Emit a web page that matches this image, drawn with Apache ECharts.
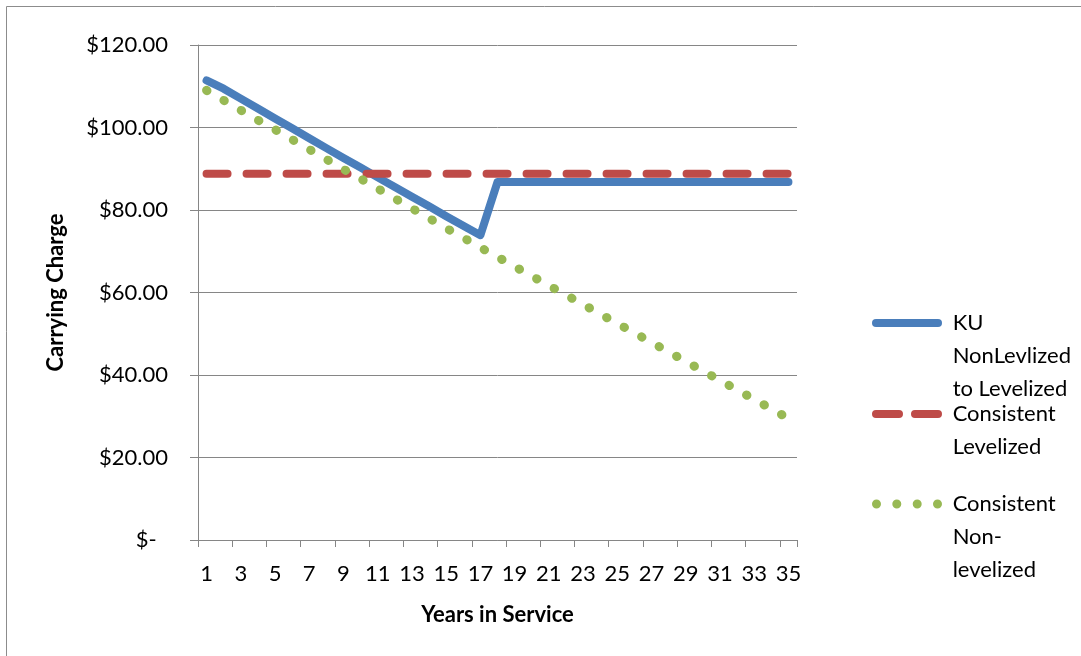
<!DOCTYPE html>
<html>
<head>
<meta charset="utf-8">
<title>Carrying Charge</title>
<script src="https://cdn.jsdelivr.net/npm/echarts/dist/echarts.min.js"></script>
<style>
  html, body { margin: 0; padding: 0; background: #fff; }
  #chart { width: 1081px; height: 656px; }
</style>
</head>
<body>
<div id="chart"></div>
<script>
// years 1..35
var years = []
for (var y = 1; y <= 35; y++) years.push(String(y))

var yTicks = [0, 20, 40, 60, 80, 100, 120]

var seriesNames = [
  'KU NonLevlized to Levelized',
  'Consistent Levelized',
  'Consistent Non-levelized'
]

var kuValues = [
  111.4, 109.4, 107.0, 104.6, 102.2, 99.8, 97.4, 95.0, 92.6, 90.3,
  87.9, 85.6, 83.2, 80.9, 78.5, 76.2, 73.9, 86.8, 86.8, 86.8,
  86.8, 86.8, 86.8, 86.8, 86.8, 86.8, 86.8, 86.8, 86.8, 86.8,
  86.8, 86.8, 86.8, 86.8, 86.8
]
var levelizedValues = [
  88.8, 88.8, 88.8, 88.8, 88.8, 88.8, 88.8, 88.8, 88.8, 88.8,
  88.8, 88.8, 88.8, 88.8, 88.8, 88.8, 88.8, 88.8, 88.8, 88.8,
  88.8, 88.8, 88.8, 88.8, 88.8, 88.8, 88.8, 88.8, 88.8, 88.8,
  88.8, 88.8, 88.8, 88.8, 88.8
]
var nonLevelizedValues = [
  109.0, 106.6, 104.2, 101.8, 99.5, 97.1, 94.7, 92.3, 89.9, 87.6,
  85.2, 82.8, 80.4, 78.0, 75.6, 73.3, 70.9, 68.6, 66.3, 64.0,
  61.7, 59.4, 57.1, 54.8, 52.5, 50.2, 47.9, 45.6, 43.3, 41.0,
  38.7, 36.4, 34.1, 31.8, 29.5
]

// empty lines in front so the first line sits level with the icon
var legendText = {
  'KU NonLevlized to Levelized': '\n\n KU\n NonLevlized\n to Levelized',
  'Consistent Levelized': '\n Consistent\n Levelized',
  'Consistent Non-levelized': '\n\n Consistent\n Non-\n levelized'
}

// legend icons: solid bar, two dashes, four dots
var iconSolid = 'path://M4,0 H66 A4,4 0 0 1 66,8 H4 A4,4 0 0 1 4,0 Z'
var iconDash = 'path://M4,0 H27 A4,4 0 0 1 27,8 H4 A4,4 0 0 1 4,0 Z M43,0 H66 A4,4 0 0 1 66,8 H43 A4,4 0 0 1 43,0 Z'
var iconDots = 'path://M0,4.5 A4.5,4.5 0 1 0 9,4.5 A4.5,4.5 0 1 0 0,4.5 Z' +
  ' M20.3,4.5 A4.5,4.5 0 1 0 29.3,4.5 A4.5,4.5 0 1 0 20.3,4.5 Z' +
  ' M40.7,4.5 A4.5,4.5 0 1 0 49.7,4.5 A4.5,4.5 0 1 0 40.7,4.5 Z' +
  ' M61,4.5 A4.5,4.5 0 1 0 70,4.5 A4.5,4.5 0 1 0 61,4.5 Z'

var FONT = 'Lato'
var FS = 22
var GRAY = '#868686'

function legendFor(name, top, icon, h) {
  return {
    data: [name],
    orient: 'vertical',
    left: 872,
    top: top,
    padding: 0,
    itemGap: 0,
    itemWidth: 70,
    itemHeight: h,
    icon: icon,
    selectedMode: false,
    itemStyle: { borderWidth: 0 },
    formatter: function (n) { return legendText[n] },
    textStyle: {
      fontFamily: FONT,
      fontSize: FS,
      color: '#000',
      lineHeight: 33
    }
  }
}

var myChart = echarts.init(document.getElementById('chart'))

myChart.setOption({
  animation: false,
  grid: {
    left: 198,
    right: 284,
    top: 45,
    bottom: 116
  },
  graphic: [
    {
      type: 'rect',
      shape: { x: 6.5, y: 6.5, width: 1200, height: 700 },
      style: { fill: 'none', stroke: '#8c8c8c', lineWidth: 1 },
      silent: true
    }
  ],
  legend: [
    legendFor(seriesNames[0], 323 - 82.5, iconSolid, 8),
    legendFor(seriesNames[1], 414 - 49.5, iconDash, 8),
    legendFor(seriesNames[2], 504 - 82.5, iconDots, 9)
  ],
  xAxis: {
    type: 'category',
    data: years,
    boundaryGap: true,
    name: 'Years in Service',
    nameLocation: 'middle',
    nameGap: 64,
    nameTextStyle: { fontFamily: FONT, fontSize: FS, fontWeight: 'bold', color: '#000' },
    axisLine: { lineStyle: { color: GRAY, width: 1 } },
    axisTick: { show: true, interval: 1, length: 7, lineStyle: { color: GRAY } },
    axisLabel: {
      interval: 1,
      margin: 23,
      fontFamily: FONT,
      fontSize: FS,
      color: '#000'
    }
  },
  yAxis: {
    type: 'value',
    min: yTicks[0],
    max: yTicks[yTicks.length - 1],
    interval: 20,
    name: 'Carrying Charge',
    nameLocation: 'middle',
    nameGap: 131,
    nameTextStyle: { fontFamily: FONT, fontSize: FS, fontWeight: 'bold', color: '#000' },
    axisLine: { show: true, lineStyle: { color: GRAY, width: 1 } },
    axisTick: { show: true, length: 8, lineStyle: { color: GRAY } },
    splitLine: { show: true, lineStyle: { color: GRAY, width: 1 } },
    axisLabel: {
      margin: 30,
      fontFamily: FONT,
      fontSize: FS,
      color: '#000',
      formatter: function (v) {
        if (v === 0) return '$-  '
        return '$' + v.toFixed(2)
      }
    }
  },
  series: [
    {
      name: seriesNames[0],
      type: 'line',
      data: kuValues,
      symbol: 'none',
      color: '#4A7EBB',
      lineStyle: { color: '#4A7EBB', width: 8, cap: 'round', join: 'round' },
      emphasis: { disabled: true }
    },
    {
      name: seriesNames[1],
      type: 'line',
      data: levelizedValues,
      symbol: 'none',
      color: '#BE4B48',
      lineStyle: { color: '#BE4B48', width: 8, type: [21, 19], cap: 'round' },
      emphasis: { disabled: true }
    },
    {
      name: seriesNames[2],
      type: 'line',
      data: nonLevelizedValues,
      symbol: 'none',
      color: '#98B954',
      lineStyle: { color: '#98B954', width: 9, type: [0.5, 19.5], cap: 'round' },
      emphasis: { disabled: true }
    }
  ]
})
</script>
</body>
</html>
